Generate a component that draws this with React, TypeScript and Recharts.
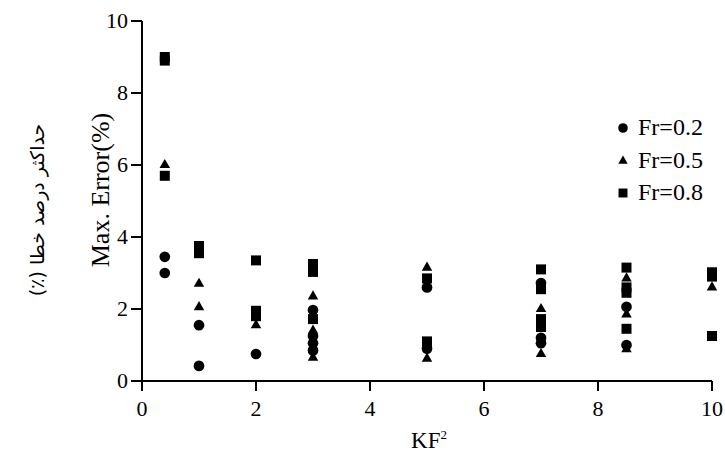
import { ScatterChart, Scatter, XAxis, YAxis, Legend, Symbols } from 'recharts';

const FONT = '"Liberation Serif", "Times New Roman", serif';
const INK = '#000';

const xTicks = [0, 2, 4, 6, 8, 10];
const xMinorTicks = [1, 3, 5, 7, 9];
const yTicks = [0, 2, 4, 6, 8, 10];
const yMinorTicks = [1, 3, 5, 7, 9];

// [KF², max error %]
const fr02 = [
  [0.4, 3.45], [0.4, 3.0],
  [1, 1.55], [1, 0.42],
  [2, 0.75],
  [3, 1.97], [3, 1.25], [3, 1.05], [3, 0.85],
  [5, 2.6], [5, 0.9],
  [7, 2.72], [7, 1.2], [7, 1.05],
  [8.5, 2.06], [8.5, 1.0],
];

const fr05 = [
  [0.4, 6.0],
  [1, 2.7], [1, 2.05],
  [2, 1.55],
  [3, 2.35], [3, 1.4], [3, 0.65],
  [5, 3.15], [5, 0.62],
  [7, 2.0], [7, 0.75],
  [8.5, 2.85], [8.5, 1.85], [8.5, 0.88],
  [10, 2.6],
];

const fr08 = [
  [0.4, 9.0], [0.4, 8.9], [0.4, 5.7],
  [1, 3.75], [1, 3.55],
  [2, 3.35], [2, 1.95], [2, 1.8],
  [3, 3.25], [3, 3.03], [3, 1.72],
  [5, 2.85], [5, 1.1],
  [7, 3.1], [7, 2.55], [7, 1.72], [7, 1.5],
  [8.5, 3.15], [8.5, 2.6], [8.5, 2.45], [8.5, 1.45],
  [10, 3.02], [10, 2.9], [10, 1.25],
];

const series = [
  { name: 'Fr=0.2', shape: 'circle', size: 90, points: fr02 },
  { name: 'Fr=0.5', shape: 'triangle', size: 48, points: fr05 },
  { name: 'Fr=0.8', shape: 'square', size: 100, points: fr08 },
];

const toXY = (pts: number[][]) => pts.map(([x, y]) => ({ x, y }));

function FrLegend() {
  return (
    <div>
      {series.map((s) => (
        <div key={s.name} style={{ display: 'flex', alignItems: 'center', height: 32.5 }}>
          <svg width={20} height={14} style={{ marginRight: 4 }}>
            <Symbols cx={9} cy={7} type={s.shape as any} size={s.size * 0.8} fill={INK} />
          </svg>
          <svg width={86} height={26}>
            <text x={0} y={20} fontFamily={FONT} fontSize={24} fill={INK}>
              {s.name}
            </text>
          </svg>
        </div>
      ))}
    </div>
  );
}

function XTick({ x, y, payload }: any) {
  return (
    <text x={x} y={y + 19} textAnchor="middle" fontFamily={FONT} fontSize={22} fill={INK}>
      {payload.value}
    </text>
  );
}

function YTick({ x, y, payload }: any) {
  return (
    <text x={x} y={y + 7} textAnchor="end" fontFamily={FONT} fontSize={22} fill={INK}>
      {payload.value}
    </text>
  );
}

function YTitle(props: any) {
  const vb = props.viewBox || { x: 102, y: 21, height: 360 };
  const cy = vb.y + vb.height / 2;
  const ex = vb.x - 2;
  const ey = cy - 11;
  const px = vb.x - 65;
  const py = cy + 9;
  return (
    <g fill={INK}>
      <text
        x={ex}
        y={ey}
        transform={`rotate(-90 ${ex} ${ey})`}
        textAnchor="middle"
        dominantBaseline="central"
        fontFamily={FONT}
        fontSize={26}
      >
        Max. Error(%)
      </text>
      <text
        x={px}
        y={py}
        transform={`rotate(-90 ${px} ${py})`}
        textAnchor="middle"
        dominantBaseline="central"
        fontFamily='"DejaVu Sans", "Noto Sans", sans-serif'
        fontSize={19}
        direction="rtl"
      >
        حداکثر درصد خطا (٪)
      </text>
    </g>
  );
}

function XTitle(props: any) {
  const vb = props.viewBox || { x: 142, y: 381, width: 570 };
  const cx = vb.x + vb.width / 2 + 2;
  return (
    <text x={cx} y={448} textAnchor="middle" fontFamily={FONT} fontSize={23} fill={INK}>
      KF
      <tspan fontSize={13} dy={-9}>2</tspan>
    </text>
  );
}

const axisLine = { stroke: INK, strokeWidth: 2 };
const tickLine = { stroke: INK, strokeWidth: 2 };

export default function App() {
  return (
    <div style={{ position: 'absolute', left: 0, top: 0, background: '#fff', fontFamily: FONT }}>
      <ScatterChart width={725} height={455} margin={{ top: 21, right: 13, left: 102, bottom: 44 }}>
        <XAxis
          xAxisId="minor"
          type="number"
          dataKey="x"
          domain={[0, 10]}
          ticks={xMinorTicks}
          height={0}
          tick={false}
          tickSize={6}
          axisLine={false}
          tickLine={tickLine}
        />
        <XAxis
          type="number"
          dataKey="x"
          domain={[0, 10]}
          ticks={xTicks}
          height={30}
          tickSize={10}
          tickMargin={6}
          axisLine={axisLine}
          tickLine={tickLine}
          tick={<XTick />}
          label={<XTitle />}
        />
        <YAxis
          yAxisId="minor"
          type="number"
          dataKey="y"
          domain={[0, 10]}
          ticks={yMinorTicks}
          width={0}
          tick={false}
          tickSize={7}
          axisLine={false}
          tickLine={tickLine}
        />
        <YAxis
          type="number"
          dataKey="y"
          domain={[0, 10]}
          ticks={yTicks}
          width={40}
          tickSize={11}
          tickMargin={3}
          axisLine={axisLine}
          tickLine={tickLine}
          tick={<YTick />}
          label={<YTitle />}
        />
        <Legend
          layout="vertical"
          verticalAlign="middle"
          align="center"
          content={<FrLegend />}
          wrapperStyle={{ position: 'absolute', left: 614, top: 112, width: 110 }}
        />
        {series.map((s) => (
          <Scatter
            key={s.name}
            name={s.name}
            data={toXY(s.points)}
            fill={INK}
            isAnimationActive={false}
            shape={(p: any) => (
              <Symbols cx={p.cx} cy={p.cy} type={s.shape as any} size={s.size} fill={INK} />
            )}
          />
        ))}
      </ScatterChart>
    </div>
  );
}
